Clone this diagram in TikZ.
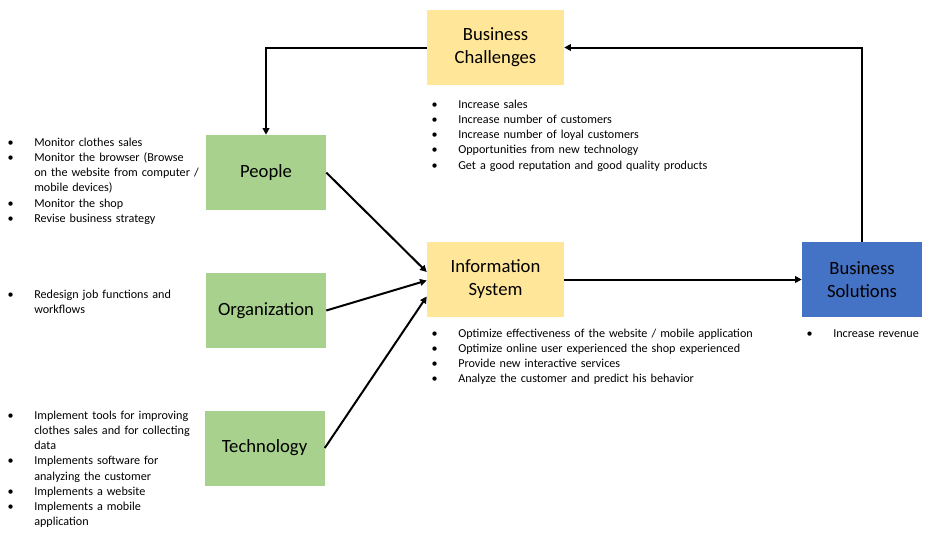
\documentclass[tikz,border=0pt]{standalone}
\usepackage{fontspec}
\setmainfont{Carlito}
\usetikzlibrary{arrows.meta,positioning,calc}
\definecolor{Yellow}{HTML}{FFE699}
\definecolor{Green}{HTML}{A9D18E}
\definecolor{Blue}{HTML}{4472C4}
\newenvironment{blist}{\begin{list}{\textbullet}{\setlength\leftmargin{22.5pt}%
  \setlength\labelwidth{7pt}\setlength\labelsep{15.5pt}\setlength\topsep{0pt}%
  \setlength\partopsep{0pt}\setlength\itemsep{0pt}\setlength\parsep{0pt}}}{\end{list}}
\tikzset{
  box/.style={minimum width=102.75pt,minimum height=56.25pt,align=center,
    inner sep=0pt,font=\fontsize{14}{17.2}\selectfont},
  smallbox/.style={box,minimum width=90pt},
  notes/.style={anchor=north west,inner sep=0pt,text width=#1,
    font=\fontsize{9.1}{11.45}\selectfont},
  arrow/.style={-{Triangle[length=5pt,width=5pt]},draw=black,line width=1.5pt}
}
\begin{document}
\begin{tikzpicture}[x=0.75pt,y=-0.75pt]
    \useasboundingbox (0,0) rectangle (939,543);
    \node[box,fill=Yellow] (bc) at (495.5,47.5) {Business\\Challenges};
    \node[smallbox,fill=Green] (people) at (266,172.5) {People};
    \node[smallbox,fill=Green] (org) at (266,310.5) {Organization};
    \node[smallbox,fill=Green] (tech) at (264.5,448) {Technology};
    \node[box,fill=Yellow] (info) at (495.5,279.5) {Information\\System};
    \node[smallbox,fill=Blue] (sol) at (862,279.5) {Business\\Solutions};
    % notes
    \node[notes=160pt] (npeople) at (4,130.5) {\begin{blist}
      \item Monitor clothes sales
      \item Monitor the browser (Browse\newline on the website from computer /\newline mobile devices)
      \item Monitor the shop
      \item Revise business strategy
    \end{blist}};
    \node[notes=160pt] (norg) at (4,282.5) {\begin{blist}
      \item Redesign job functions and\newline workflows
    \end{blist}};
    \node[notes=160pt] (ntech) at (4,403.5) {\begin{blist}
      \item Implement tools for improving\newline clothes sales and for collecting\newline data
      \item Implements software for\newline analyzing the customer
      \item Implements a website
      \item Implements a mobile\newline application
    \end{blist}};
    \node[notes=280pt] (nbc) at (428,92.5) {\begin{blist}
      \item Increase sales
      \item Increase number of customers
      \item Increase number of loyal customers
      \item Opportunities from new technology
      \item Get a good reputation and good quality products
    \end{blist}};
    \node[notes=280pt] (ninfo) at (428,321.5) {\begin{blist}
      \item Optimize effectiveness of the website / mobile application
      \item Optimize online user experienced the shop experienced
      \item Provide new interactive services
      \item Analyze the customer and predict his behavior
    \end{blist}};
    \node[notes=100pt] (nsol) at (803,321.5) {\begin{blist}
      \item Increase revenue
    \end{blist}};
    % connectors
    \draw[arrow] (bc.west) -| (people.north);
    \draw[arrow] (sol.north) |- (bc.east);
    \draw[arrow] (people.east) -- ($(info.west)+(0,-7.5)$);
    \draw[arrow] (org.east) -- ($(info.west)+(0,1)$);
    \draw[arrow] (tech.east) -- ($(info.west)+(0,17)$);
    \draw[arrow] (info) -- (sol);
  \end{tikzpicture}
\end{document}
